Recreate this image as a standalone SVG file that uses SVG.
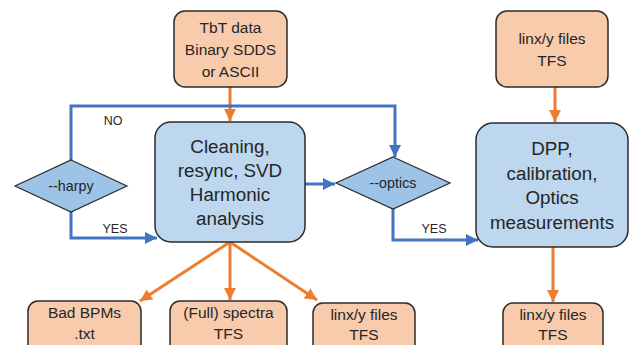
<svg xmlns="http://www.w3.org/2000/svg" width="632" height="345" viewBox="0 0 632 345">
  <style>
    .file { fill: #F8CBAD; stroke: #2b2b2b; stroke-width: 1.5; }
    .proc { fill: #BDD7EE; stroke: #2b2b2b; stroke-width: 1.5; }
    .dec { fill: #9DC3E6; stroke: #2b2b2b; stroke-width: 1.2; }
    .t { font-family: "Liberation Sans", Arial, sans-serif; fill: #262626; text-anchor: middle; }
    .big { font-size: 18.8px; }
    .mid { font-size: 15.5px; }
    .small { font-size: 12.5px; }
    .flag { font-size: 14.3px; }
    .blue { fill: none; stroke: #4472C4; stroke-width: 3; }
    .orange { fill: none; stroke: #ED7D31; stroke-width: 3; }
  </style>
  <defs>
    <marker id="ah-orange" markerUnits="userSpaceOnUse" markerWidth="14" markerHeight="14" viewBox="0 0 14 14" refX="12" refY="7" orient="auto">
      <path d="M0,1 L12,7 L0,13 Z" fill="#ED7D31"/>
    </marker>
    <marker id="ah-blue" markerUnits="userSpaceOnUse" markerWidth="14" markerHeight="14" viewBox="0 0 14 14" refX="12" refY="7" orient="auto">
      <path d="M0,1 L12,7 L0,13 Z" fill="#4472C4"/>
    </marker>
  </defs>

  <g id="connectors">
    <!-- orange data flow -->
    <line class="orange" x1="230" y1="87" x2="230" y2="121" marker-end="url(#ah-orange)"/>
    <line class="orange" x1="555" y1="87" x2="555" y2="122" marker-end="url(#ah-orange)"/>
    <line class="orange" x1="230" y1="242" x2="140" y2="301" marker-end="url(#ah-orange)"/>
    <line class="orange" x1="230" y1="242" x2="230" y2="300" marker-end="url(#ah-orange)"/>
    <line class="orange" x1="230" y1="242" x2="317" y2="300" marker-end="url(#ah-orange)"/>
    <line class="orange" x1="553" y1="247" x2="553" y2="302" marker-end="url(#ah-orange)"/>
    <!-- blue decision flow -->
    <polyline class="blue" points="71,160 71,106 395,106 395,157" marker-end="url(#ah-blue)"/>
    <polyline class="blue" points="71,212 71,238 157,238" marker-end="url(#ah-blue)"/>
    <line class="blue" x1="305" y1="184" x2="335" y2="184" marker-end="url(#ah-blue)"/>
    <polyline class="blue" points="393,209 393,240 478,240" marker-end="url(#ah-blue)"/>
    <text class="t small" x="113" y="125">NO</text>
    <text class="t small" x="115" y="233">YES</text>
    <text class="t small" x="434" y="233">YES</text>
  </g>

  <g id="tbt-data">
    <rect class="file" x="174" y="11" width="113" height="76" rx="11"/>
    <text class="t mid" x="230.5" y="33">TbT data</text>
    <text class="t mid" x="230.5" y="55">Binary SDDS</text>
    <text class="t mid" x="230.5" y="77">or ASCII</text>
  </g>

  <g id="linx-in">
    <rect class="file" x="496" y="11" width="112" height="76" rx="11"/>
    <text class="t mid" x="552" y="44">linx/y files</text>
    <text class="t mid" x="552" y="66">TFS</text>
  </g>

  <g id="harpy">
    <polygon class="dec" points="71,160 127,186 71,212 15,186"/>
    <text class="t flag" x="71" y="190.5">--harpy</text>
  </g>

  <g id="cleaning">
    <rect class="proc" x="155" y="122" width="150" height="120" rx="16"/>
    <text class="t big" x="230" y="153">Cleaning,</text>
    <text class="t big" x="230" y="177">resync, SVD</text>
    <text class="t big" x="230" y="201">Harmonic</text>
    <text class="t big" x="230" y="225">analysis</text>
  </g>

  <g id="optics">
    <polygon class="dec" points="393,157 450,183 393,209 336,183"/>
    <text class="t flag" x="393" y="188">--optics</text>
  </g>

  <g id="dpp">
    <rect class="proc" x="476" y="123" width="152" height="124" rx="17"/>
    <text class="t big" x="552" y="155">DPP,</text>
    <text class="t big" x="552" y="179.5">calibration,</text>
    <text class="t big" x="552" y="204">Optics</text>
    <text class="t big" x="552" y="228.5">measurements</text>
  </g>

  <g id="bad-bpms">
    <rect class="file" x="28" y="301" width="113" height="60" rx="10"/>
    <text class="t mid" x="84.5" y="318">Bad BPMs</text>
    <text class="t mid" x="84.5" y="339">.txt</text>
  </g>

  <g id="spectra">
    <rect class="file" x="170" y="301" width="117" height="60" rx="10"/>
    <text class="t mid" x="228.5" y="318">(Full) spectra</text>
    <text class="t mid" x="228.5" y="339">TFS</text>
  </g>

  <g id="linx-out">
    <rect class="file" x="313" y="303" width="102" height="60" rx="10"/>
    <text class="t mid" x="364" y="320">linx/y files</text>
    <text class="t mid" x="364" y="340">TFS</text>
  </g>

  <g id="linx-optics">
    <rect class="file" x="503" y="303" width="100" height="60" rx="10"/>
    <text class="t mid" x="553" y="320">linx/y files</text>
    <text class="t mid" x="553" y="340">TFS</text>
  </g>
</svg>
